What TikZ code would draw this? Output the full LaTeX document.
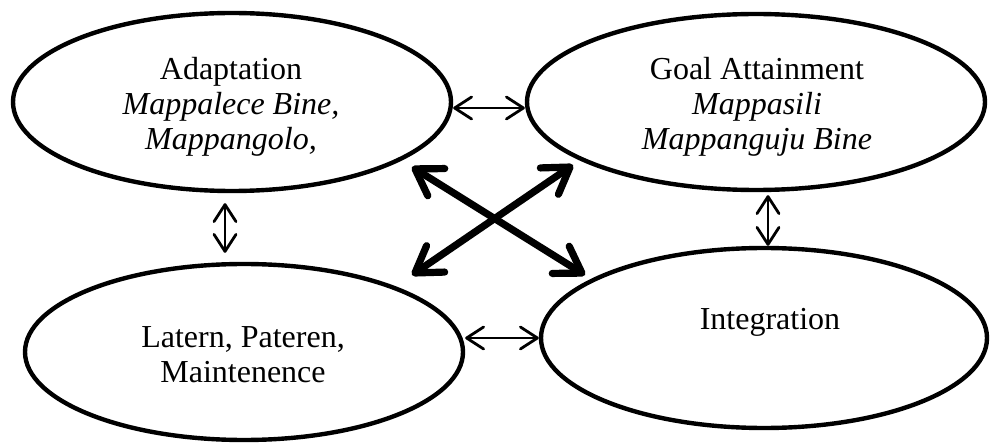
\documentclass[tikz,border=0pt]{standalone}
\usepackage{fontspec}
\setmainfont{Liberation Serif}
\usetikzlibrary{shapes.geometric,arrows.meta}
\tikzset{
  oval/.style={draw=black, line width=2.2pt, ellipse, fill=white, inner sep=0pt},
  txt/.style={align=center, inner sep=0pt, font=\fontsize{16}{17.5}\selectfont},
  thin2way/.style={line width=1.4pt, {Straight Barb[round,length=8.5pt,width=11pt]}-{Straight Barb[round,length=8.5pt,width=11pt]}},
  bold2way/.style={line width=3.6pt, {Straight Barb[round,length=12.5pt,width=16pt]}-{Straight Barb[round,length=12.5pt,width=16pt]}},
}
\begin{document}
\begin{tikzpicture}[x=0.5pt,y=-0.5pt]
\useasboundingbox (0,0) rectangle (990,443);
\node[oval, minimum width=219pt, minimum height=89pt] (ad) at (232,102) {};
\node[txt] (adt) at (231,107) {Adaptation\\ \textit{Mappalece Bine,}\\ \textit{Mappangolo,}};
\node[oval, minimum width=229pt, minimum height=88pt] (go) at (756,102) {};
\node[txt] (got) at (757,107) {Goal Attainment\\ \textit{Mappasili}\\ \textit{Mappanguju Bine}};
\node[oval, minimum width=219pt, minimum height=88pt] (la) at (244,352) {};
\node[txt] (lat) at (243,355) {Latern, Pateren,\\ Maintenence};
\node[oval, minimum width=223pt, minimum height=90pt] (in) at (764,338) {};
\node[txt] (int) at (770,322) {Integration};
% thin connectors
\draw[thin2way] ([yshift=-3pt]ad.east) -- ([yshift=-3pt]go.west);
\draw[thin2way] (in.west -| la.east) -- (in.west);
\draw[thin2way, shorten <=5pt, shorten >=4.5pt] ([xshift=-3.5pt]ad.south) -- ([xshift=-3.5pt]ad.south |- la.north);
\draw[thin2way, shorten <=1.5pt] ([xshift=6pt]go.south) -- ([xshift=6pt]go.south |- in.north);
% bold cross
\coordinate (x1) at (412,167);
\coordinate (x2) at (585,275);
\coordinate (x3) at (412,275);
\coordinate (x4) at (573,165);
\draw[bold2way] (x1) -- (x2);
\draw[bold2way] (x3) -- (x4);
\end{tikzpicture}
\end{document}
